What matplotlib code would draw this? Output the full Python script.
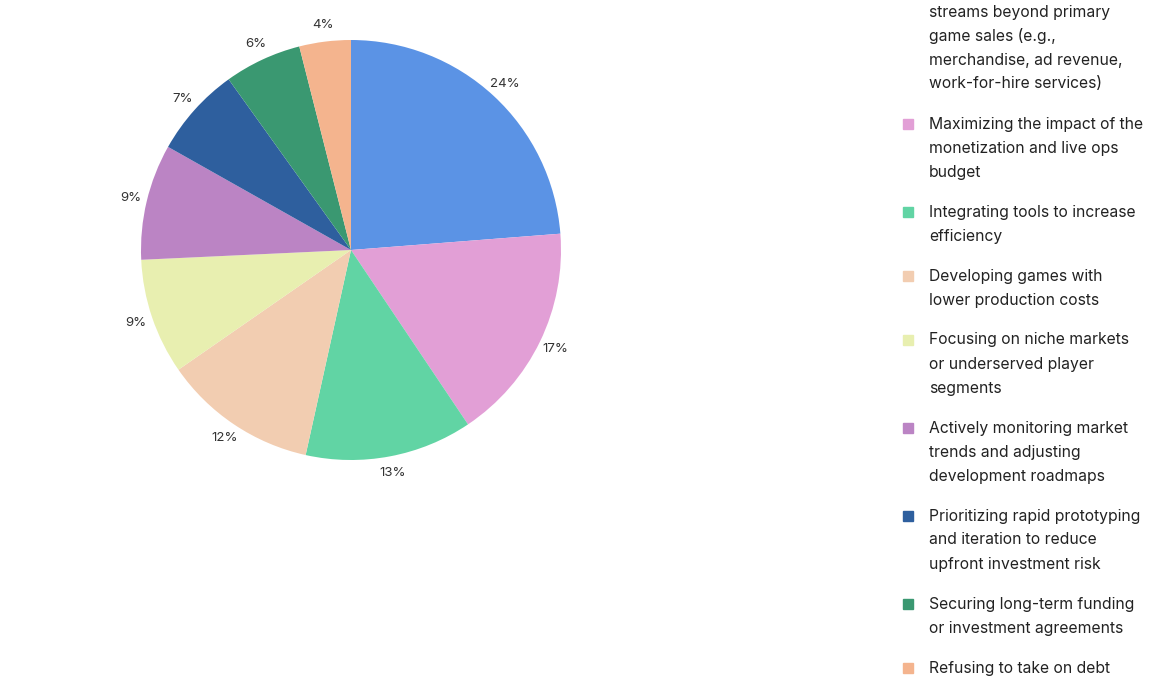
import matplotlib
matplotlib.use("Agg")
import matplotlib.pyplot as plt

plt.rcParams['font.family'] = ['Inter', 'DejaVu Sans']

categories = [
    "Diversifying revenue streams beyond primary game sales (e.g., merchandise, ad revenue, work-for-hire services)",
    "Maximizing the impact of the monetization and live ops budget",
    "Integrating tools to increase efficiency",
    "Developing games with lower production costs",
    "Focusing on niche markets or underserved player segments",
    "Actively monitoring market trends and adjusting development roadmaps",
    "Prioritizing rapid prototyping and iteration to reduce upfront investment risk",
    "Securing long-term funding or investment agreements",
    "Refusing to take on debt",
]
legend_lines = [
    ["Diversifying revenue", "streams beyond primary", "game sales (e.g.,", "merchandise, ad revenue,", "work-for-hire services)"],
    ["Maximizing the impact of the", "monetization and live ops", "budget"],
    ["Integrating tools to increase", "efficiency"],
    ["Developing games with", "lower production costs"],
    ["Focusing on niche markets", "or underserved player", "segments"],
    ["Actively monitoring market", "trends and adjusting", "development roadmaps"],
    ["Prioritizing rapid prototyping", "and iteration to reduce", "upfront investment risk"],
    ["Securing long-term funding", "or investment agreements"],
    ["Refusing to take on debt"],
]
values = [24, 17, 13, 12, 9, 9, 7, 6, 4]
colors = ["#5B93E5", "#E29FD6", "#61D4A4", "#F2CDB1", "#E8EFB0",
          "#BB84C4", "#2E5F9E", "#3A9871", "#F4B48E"]

W, H = 1152, 694
fig = plt.figure(figsize=(W/100, H/100), dpi=100)
r = 210
cx, cy = 351, 250
ax = fig.add_axes([(cx - r)/W, 1 - (cy + r)/H, 2*r/W, 2*r/H])
wedges, texts = ax.pie(values, colors=colors, startangle=90, counterclock=False,
       labels=[f"{v}%" for v in values], labeldistance=1.08,
       wedgeprops=dict(linewidth=0),
       textprops=dict(fontsize=9.5, color="#333333"))
for t in texts:
    t.set_ha("center")
    t.set_clip_on(False)
ax.set_xlim(-1, 1)
ax.set_ylim(-1, 1)
ax.set_aspect("equal")
ax.axis("off")

# legend
y = -12
for i, lines in enumerate(legend_lines):
    fig.patches.append(plt.Rectangle(((903)/W, 1 - (y + 5)/H), 10/W, 10/H,
                                     transform=fig.transFigure, color=colors[i]))
    for j, t in enumerate(lines):
        fig.text(929/W, 1 - (y + j*24)/H, t, fontsize=11.3, color="#222222",
                 va="center", ha="left")
    y += len(lines)*24 + 16

fig.savefig("out.png", dpi=100)
